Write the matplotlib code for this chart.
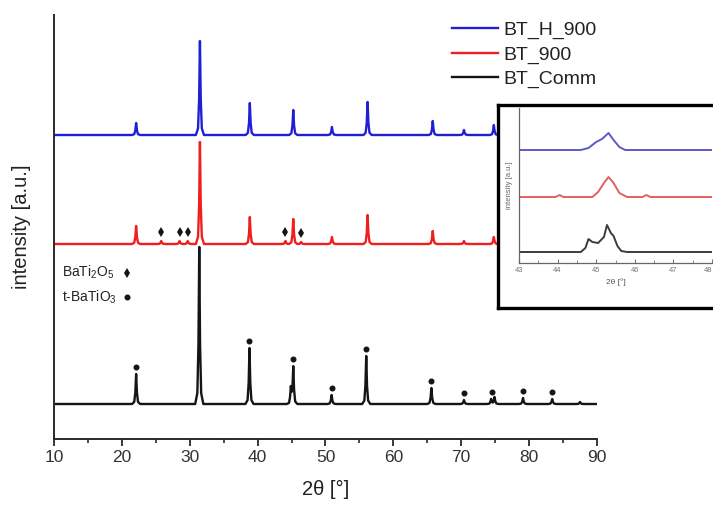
import numpy as np
import matplotlib
matplotlib.use("Agg")
import matplotlib.pyplot as plt
from matplotlib.ticker import MultipleLocator

plt.rcParams["font.family"] = ["Liberation Sans", "DejaVu Sans"]
plt.rcParams["mathtext.fontset"] = "custom"
plt.rcParams["mathtext.rm"] = "Liberation Sans"
plt.rcParams["mathtext.it"] = "Liberation Sans:italic"

# ---- diffraction peak tables: 2θ [°] and intensity [a.u.] above baseline ----
comm_pos = [22.1, 31.4, 38.8, 44.9, 45.25, 50.9, 56.0, 65.6, 70.4, 74.4, 74.9, 79.1, 83.4, 87.5]
comm_int = [30, 157, 56, 16, 37, 9, 48, 16, 4, 5, 7, 6, 5, 2]

bt900_pos = [22.1, 25.8, 28.5, 29.7, 31.5, 38.85, 44.1, 45.25, 46.4, 50.95, 56.2, 65.8, 70.4, 74.8]
bt900_int = [18, 3, 3, 3, 102, 27, 3, 25, 2, 7, 29, 13, 3, 7]

bth900_pos = [22.1, 31.5, 38.85, 45.25, 50.95, 56.2, 65.8, 70.4, 74.8]
bth900_int = [12, 94, 32, 25, 8, 33, 14, 5, 10]

# phase markers
batio3_marks = [22.1, 38.8, 45.25, 50.9, 56.0, 65.6, 70.4, 74.5, 79.1, 83.4]
bati2o5_marks = [25.8, 28.5, 29.7, 44.1, 46.4]

# ---- inset (43–48°) traces, intensity above baseline ----
ins_ticks = [43, 44, 45, 46, 47, 48]
ins_blue_x = [43.0, 44.6, 44.8, 45.0, 45.15, 45.32, 45.45, 45.6, 45.75, 48.0]
ins_blue_y = [0, 0, 2, 8, 11, 17, 10, 3, 0, 0]
ins_red_x = [43.0, 43.95, 44.05, 44.15, 44.9, 45.05, 45.2, 45.32, 45.45, 45.6, 45.8, 46.2, 46.3, 46.4, 48.0]
ins_red_y = [0, 0, 2, 0, 0, 5, 14, 20, 14, 4, 0, 0, 2, 0, 0]
ins_black_x = [43.0, 44.6, 44.72, 44.8, 44.9, 45.05, 45.2, 45.28, 45.38, 45.45, 45.55, 45.65, 45.8, 48.0]
ins_black_y = [0, 0, 4, 13, 10, 9, 15, 27, 19, 16, 6, 1, 0, 0]

# peak shape template (offsets in ° and fraction of peak height)
shape_dx = np.array([-0.6, -0.28, -0.12, 0.0, 0.12, 0.28, 0.6])
shape_fr = np.array([0.0, 0.07, 0.38, 1.0, 0.38, 0.07, 0.0])


def pattern(pos, amp, lo=10.0, hi=90.0):
    xs = [lo, hi]
    for p in pos:
        xs.extend(p + shape_dx)
    xs = np.unique(np.clip(xs, lo, hi))
    ys = np.zeros_like(xs)
    for p, a in zip(pos, amp):
        ys += np.interp(xs, p + shape_dx, a * shape_fr)
    return xs, ys


def local_top(xs, ys, x0, win=0.35):
    sel = np.abs(xs - x0) <= win
    return ys[sel].max()


W, H = 713, 507
fig = plt.figure(figsize=(W / 100, H / 100), dpi=100)

# main axes
ax = fig.add_axes([54 / W, (H - 439) / H, (597 - 54) / W, (439 - 15) / H])
ax.set_xlim(10, 90)
ax.set_ylim(0, 424)

blue = "#1f1fd6"
red = "#f01e1e"
black = "#151515"
off_comm, off_900, off_h900 = 35, 195, 304

xc, yc = pattern(comm_pos, comm_int)
x9, y9 = pattern(bt900_pos, bt900_int)
xh, yh = pattern(bth900_pos, bth900_int)

ax.plot(xh, yh + off_h900, color=blue, lw=1.7, label="BT_H_900", solid_joinstyle="round")
ax.plot(x9, y9 + off_900, color=red, lw=1.7, label="BT_900", solid_joinstyle="round")
ax.plot(xc, yc + off_comm, color=black, lw=1.7, label="BT_Comm", solid_joinstyle="round")

dot_y = [local_top(xc, yc, m) + off_comm + 7 for m in batio3_marks]
ax.plot(batio3_marks, dot_y, ls="none", marker="o", ms=3.3, color=black)
dia_y = [np.interp(m, x9, y9) + off_900 + 9 for m in bati2o5_marks]
ax.plot(bati2o5_marks, dia_y, ls="none", marker="d", ms=5.2, mew=0, color=black)

for s in ("top", "right"):
    ax.spines[s].set_visible(False)
for s in ("left", "bottom"):
    ax.spines[s].set_color("#2a2a2a")
    ax.spines[s].set_linewidth(1.4)
ax.set_yticks([])
ax.xaxis.set_major_locator(MultipleLocator(10))
ax.xaxis.set_minor_locator(MultipleLocator(5))
ax.tick_params(axis="x", which="major", direction="out", length=5, width=1.3,
               colors="#2a2a2a", labelsize=12.5, pad=3, labelcolor="#333333")
ax.tick_params(axis="x", which="minor", direction="out", length=3, width=1.2, colors="#2a2a2a")

fig.text(326 / W, 1 - 489 / H, "2θ [°]", ha="center", va="center", fontsize=14.5, color="#222222")
fig.text(22 / W, 1 - 227 / H, "intensity [a.u.]", ha="center", va="center", rotation=90,
         fontsize=14.5, color="#222222")

# phase key
fig.text(62 / W, 1 - 272 / H, r"BaTi$_2$O$_5$", ha="left", va="center", fontsize=10, color="#222222")
fig.text(62 / W, 1 - 297 / H, r"t-BaTiO$_3$", ha="left", va="center", fontsize=10, color="#222222")
fig.lines.append(plt.Line2D([127 / W], [1 - 273 / H], transform=fig.transFigure, ls="none",
                            marker="d", ms=5.2, mew=0, color=black))
fig.lines.append(plt.Line2D([127 / W], [1 - 297 / H], transform=fig.transFigure, ls="none",
                            marker="o", ms=3.3, color=black))

leg = fig.legend(loc="upper left", bbox_to_anchor=(452 / W, 1 - 21 / H), frameon=False,
                 fontsize=14, handlelength=2.35, handletextpad=0.3, labelspacing=0.36,
                 borderpad=0, borderaxespad=0)
for t in leg.get_texts():
    t.set_color("#222222")

# inset frame
fr = fig.add_axes([498 / W, (H - 308) / H, 225 / W, 203 / H])
fr.set_xticks([])
fr.set_yticks([])
fr.set_facecolor("white")
for s in fr.spines.values():
    s.set_linewidth(2.4)
    s.set_color("black")

# inset plot
ins = fig.add_axes([519 / W, (H - 263) / H, (712 - 519) / W, (263 - 108) / H])
ins.set_facecolor("none")
ins.set_xlim(43, 48)
ins.set_ylim(0, 155)
ins.plot(ins_blue_x, np.array(ins_blue_y) + 113, color="#5b5bc4", lw=1.4)
ins.plot(ins_red_x, np.array(ins_red_y) + 66, color="#e46060", lw=1.4)
ins.plot(ins_black_x, np.array(ins_black_y) + 11, color="#3c3c3c", lw=1.4)
for s in ("top", "right"):
    ins.spines[s].set_visible(False)
for s in ("left", "bottom"):
    ins.spines[s].set_color("#666666")
    ins.spines[s].set_linewidth(0.9)
ins.set_yticks([])
ins.set_xticks(ins_ticks)
ins.set_xticklabels([str(t) for t in ins_ticks])
ins.xaxis.set_minor_locator(MultipleLocator(0.5))
ins.tick_params(axis="x", which="major", direction="in", length=3, width=0.8,
                colors="#777777", labelsize=5.5, pad=3)
ins.tick_params(axis="x", which="minor", direction="in", length=2, width=0.6, colors="#777777")
ins.get_xticklabels()[-1].set_horizontalalignment("right")
ins.set_xlabel("2θ [°]", fontsize=6, color="#555555", labelpad=3)
ins.set_ylabel("intensity [a.u.]", fontsize=5.5, color="#666666", labelpad=4)

fig.savefig("out.png", dpi=100)
